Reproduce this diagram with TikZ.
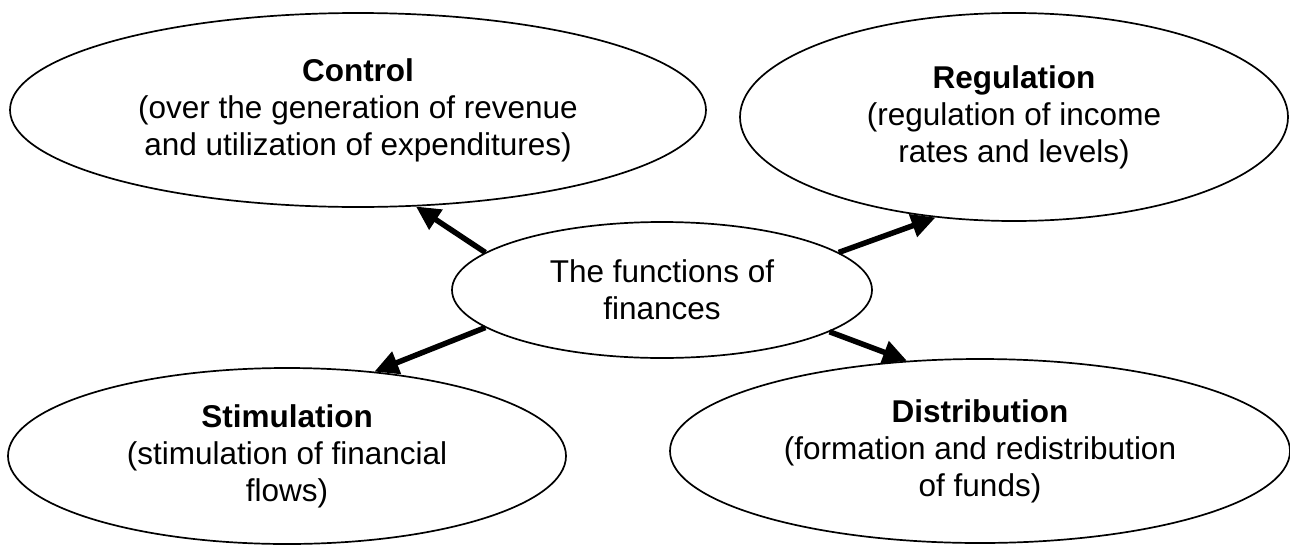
\documentclass[tikz,border=0pt]{standalone}
\usepackage{fontspec}
\setmainfont{Liberation Sans}
\usetikzlibrary{shapes.geometric,arrows.meta}
\begin{document}
\begin{tikzpicture}[x=1pt,y=-1pt,
  func/.style={ellipse,draw,line width=1.7pt,inner sep=0pt,align=center,
    font=\fontsize{31.5}{37}\selectfont},
  link/.style={line width=5.5pt,-{Triangle[length=24pt,width=23pt]}}]
\useasboundingbox (0,0) rectangle (1290,544);
\node[func,minimum width=696pt,minimum height=194pt] (control) at (358,110)
  {\textbf{Control}\\(over the generation of revenue\\and utilization of expenditures)};
\node[func,minimum width=548pt,minimum height=208pt] (regulation) at (1014,117)
  {\textbf{Regulation}\\(regulation of income\\rates and levels)};
\node[func,minimum width=420pt,minimum height=136pt] (center) at (662,290)
  {The functions of\\finances};
\node[func,minimum width=558pt,minimum height=176pt] (stimulation) at (287,456)
  {\textbf{Stimulation}\\(stimulation of financial\\flows)};
\node[func,minimum width=620pt,minimum height=184pt] (distribution) at (980,451)
  {\textbf{Distribution}\\(formation and redistribution\\of funds)};
\draw[link] (center.168) -- (control.301);
\draw[link] (center.12) -- (regulation.232);
\draw[link] (center.192) -- (stimulation.44);
\draw[link] (center.346) -- (distribution.129);
\end{tikzpicture}
\end{document}
